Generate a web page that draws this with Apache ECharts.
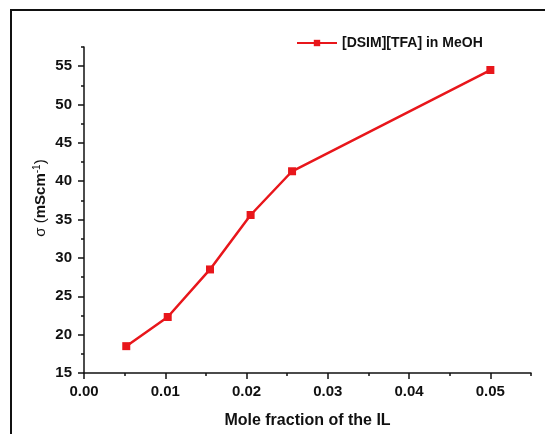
<!DOCTYPE html>
<html>
<head>
<meta charset="utf-8">
<script src="https://cdn.jsdelivr.net/npm/echarts@6/dist/echarts.min.js"></script>
<style>html,body{margin:0;padding:0;background:#fff}#c{width:545px;height:434px}</style>
</head>
<body>
<div id="c"></div>
<script>
var seriesName = '[DSIM][TFA] in MeOH';
var moleFraction = [0.0052, 0.0103, 0.0155, 0.0205, 0.0256, 0.0500];
var conductivity = [18.5, 22.3, 28.5, 35.6, 41.3, 54.5];
var yTicks = [15, 20, 25, 30, 35, 40, 45, 50, 55];
var xTicks = [0, 0.01, 0.02, 0.03, 0.04, 0.05];

var data = moleFraction.map(function (x, i) { return [x, conductivity[i]]; });
var font = '"Liberation Sans", Arial, sans-serif';
var red = '#e8161b';

var chart = echarts.init(document.getElementById('c'), null, {renderer: 'canvas'});
chart.setOption({
  animation: false,
  backgroundColor: '#fff',
  textStyle: {fontFamily: font},
  graphic: [{
    type: 'rect', shape: {x: 11, y: 10, width: 700, height: 700},
    style: {fill: 'none', stroke: '#111', lineWidth: 2}, silent: true, z: 100
  }],
  legend: {
    left: 291, top: 31, itemWidth: 40, itemHeight: 8, itemGap: 5,
    textStyle: {fontFamily: font, fontSize: 14, fontWeight: 'bold', color: '#111'},
    data: [seriesName]
  },
  grid: {left: 84, right: 14, top: 47, bottom: 61, containLabel: false},
  xAxis: [{
    type: 'value', min: 0, max: 0.055, interval: 0.01,
    name: 'Mole fraction of the IL', nameLocation: 'middle', nameGap: 40,
    nameTextStyle: {fontFamily: font, fontSize: 16, fontWeight: 'bold', color: '#111'},
    axisLine: {show: true, onZero: false, lineStyle: {color: '#111', width: 1.5}},
    axisTick: {show: true, inside: false, length: 6, lineStyle: {color: '#111', width: 1.5}, customValues: xTicks},
    axisLabel: {customValues: xTicks, margin: 11, fontFamily: font, fontSize: 15, fontWeight: 'bold', color: '#111',
      formatter: function (v) { return v.toFixed(2); }},
    splitLine: {show: false}
  }, {
    type: 'value', position: 'bottom', min: 0, max: 0.055, interval: 0.005,
    axisLine: {show: false, onZero: false},
    axisTick: {show: true, inside: false, length: 3, lineStyle: {color: '#111', width: 1.5}},
    axisLabel: {show: false}, splitLine: {show: false}
  }],
  yAxis: [{
    type: 'value', min: 15, max: 57.5, interval: 5, position: 'left',
    name: '{r|σ (}{b|mScm}{s|-1}{r|)}', nameLocation: 'middle', nameGap: 34, nameRotate: 90,
    nameMoveOverlap: false,
    nameTextStyle: {
      color: '#111', padding: [0, 0, 0, 24],
      rich: {
        r: {fontFamily: font, fontSize: 15, color: '#111'},
        b: {fontFamily: font, fontSize: 15, fontWeight: 'bold', color: '#111'},
        s: {fontFamily: font, fontSize: 10, color: '#111', verticalAlign: 'top', padding: [0, 0, 8, 0]}
      }
    },
    axisLine: {show: true, onZero: false, lineStyle: {color: '#111', width: 1.5}},
    axisTick: {show: true, inside: false, length: 6, lineStyle: {color: '#111', width: 1.5}, customValues: yTicks},
    axisLabel: {customValues: yTicks, margin: 12, fontFamily: font, fontSize: 15, fontWeight: 'bold', color: '#111'},
    splitLine: {show: false}
  }, {
    type: 'value', min: 15, max: 57.5, interval: 2.5, position: 'left', offset: 0,
    axisLine: {show: false, onZero: false},
    axisTick: {show: true, inside: false, length: 3, lineStyle: {color: '#111', width: 1.5}},
    axisLabel: {show: false}, splitLine: {show: false}
  }],
  series: [{
    name: seriesName, type: 'line', xAxisIndex: 0, yAxisIndex: 0,
    data: data, symbol: 'rect', symbolSize: 8, showSymbol: true,
    lineStyle: {color: red, width: 2.5}, itemStyle: {color: red}
  }]
});
</script>
</body>
</html>
